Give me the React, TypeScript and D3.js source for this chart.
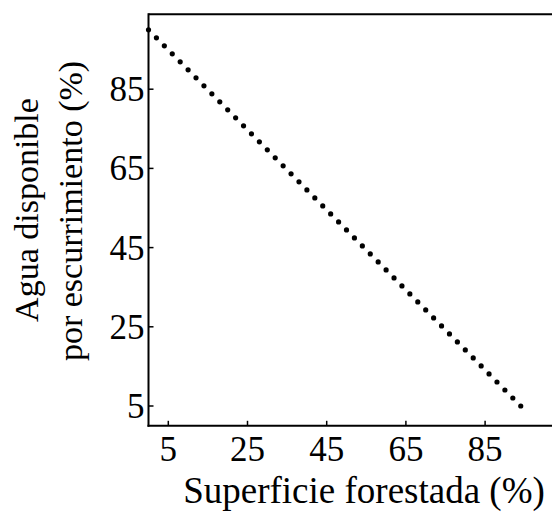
import React from "react";
import * as d3 from "d3";

const xValues = [0, 2, 4, 6, 8, 10, 12, 14, 16, 18, 20, 22, 24, 26, 28, 30, 32, 34, 36, 38, 40, 42, 44, 46, 48, 50, 52, 54, 56, 58, 60, 62, 64, 66, 68, 70, 72, 74, 76, 78, 80, 82, 84, 86, 88, 90, 92, 94];
const yValues = [100, 97.98, 95.96, 93.94, 91.91, 89.89, 87.87, 85.85, 83.83, 81.81, 79.79, 77.77, 75.74, 73.72, 71.7, 69.68, 67.66, 65.64, 63.62, 61.6, 59.57, 57.55, 55.53, 53.51, 51.49, 49.47, 47.45, 45.43, 43.4, 41.38, 39.36, 37.34, 35.32, 33.3, 31.28, 29.26, 27.23, 25.21, 23.19, 21.17, 19.15, 17.13, 15.11, 13.09, 11.06, 9.04, 7.02, 5.0];
const xTicks = [5, 25, 45, 65, 85];
const yTicks = [5, 25, 45, 65, 85];
const xTitle = "Superficie forestada (%)";
const yTitle1 = "Agua disponible";
const yTitle2 = "por escurrimiento (%)";

export default function App() {
  const W = 552, H = 512;
  const left = 148.5, bottom = 425.8, top = 14.3;
  const pxPerUnit = 3.96;
  const x = d3.scaleLinear().domain([0, 104]).range([left, left + 104 * pxPerUnit]);
  const y = d3.scaleLinear().domain([0, 104]).range([bottom, bottom - 104 * pxPerUnit]);
  const font = "'Liberation Serif', 'Times New Roman', serif";
  const tickFs = 35;
  const data = xValues.map((v, i) => [v, yValues[i]]);
  return (
    <svg width={W} height={H} style={{ position: "absolute", left: 0, top: 0, background: "#fff" }}>
      <rect x={0} y={0} width={W} height={H} fill="#fff" />
      <line x1={left} y1={top} x2={W + 2} y2={top} stroke="#000" strokeWidth={2} />
      <line x1={left} y1={top - 1} x2={left} y2={bottom + 1} stroke="#000" strokeWidth={2} />
      <line x1={left - 1} y1={bottom} x2={W + 2} y2={bottom} stroke="#000" strokeWidth={2} />
      {xTicks.map((t) => (
        <g key={"x" + t}>
          <line x1={x(t)} x2={x(t)} y1={bottom} y2={bottom - 5} stroke="#000" strokeWidth={1.5} />
          <text x={x(t)} y={461} textAnchor="middle" fontFamily={font} fontSize={tickFs} fill="#000">{t}</text>
        </g>
      ))}
      {yTicks.map((t) => (
        <g key={"y" + t}>
          <line x1={left} x2={left + 5} y1={y(t)} y2={y(t)} stroke="#000" strokeWidth={1.5} />
          <text x={left - 4} y={y(t)} dy="0.34em" textAnchor="end" fontFamily={font} fontSize={tickFs} fill="#000">{t}</text>
        </g>
      ))}
      {data.map(([a, b], i) => (
        <circle key={i} cx={x(a)} cy={y(b)} r={2.6} fill="#000" />
      ))}
      <text x={364} y={503} textAnchor="middle" fontFamily={font} fontSize={37} fill="#000">{xTitle}</text>
      <text transform={`translate(37.5, 210) rotate(-90)`} textAnchor="middle" fontFamily={font} fontSize={34} fill="#000">{yTitle1}</text>
      <text transform={`translate(82, 211) rotate(-90)`} textAnchor="middle" fontFamily={font} fontSize={34} fill="#000">{yTitle2}</text>
    </svg>
  );
}
